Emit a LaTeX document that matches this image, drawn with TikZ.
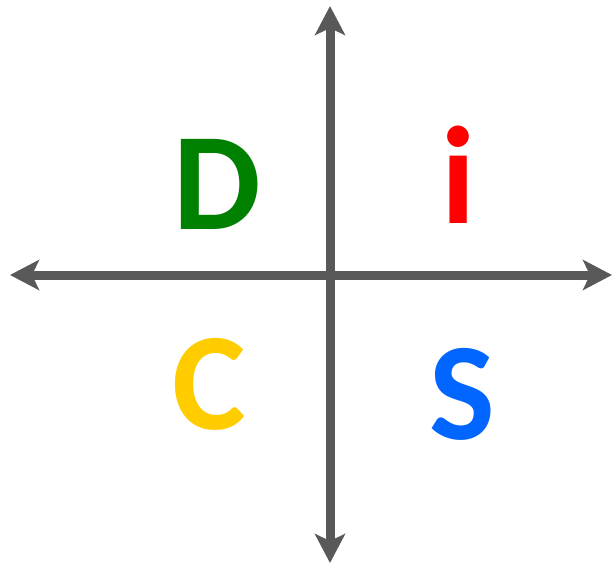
\documentclass[tikz,border=0pt]{standalone}
\usepackage{fontspec}
\setmainfont{Carlito}
\usetikzlibrary{arrows.meta}
\definecolor{axisgray}{HTML}{595959}
\definecolor{dgreen}{HTML}{008000}
\definecolor{ired}{HTML}{FF0000}
\definecolor{cyellow}{HTML}{FFCC00}
\definecolor{sblue}{HTML}{0066FF}
\tikzset{
  axis/.style={draw=axisgray, line width=9pt,
    arrows={Stealth[length=29pt,width=30pt,inset=7pt]-Stealth[length=29pt,width=30pt,inset=7pt]}},
  letter/.style={inner sep=0pt, anchor=base, font=\fontsize{139}{139}\selectfont\bfseries}
}
\begin{document}
\begin{tikzpicture}[x=1pt,y=-1pt]
\useasboundingbox (0,0) rectangle (612,563);
\coordinate (top) at (330,6);
\coordinate (bottom) at (330,563);
\coordinate (left) at (10,275);
\coordinate (right) at (612,275);
\draw[axis] (left) -- (right);
\draw[axis] (bottom) -- (top);
\node[letter, text=dgreen] (D) at (217,229) {D};
\node[letter, text=ired] (I) at (459,223) {i};
\node[letter, text=cyellow] (C) at (209,429) {C};
\node[letter, text=sblue] (S) at (462,439) {S};
\end{tikzpicture}
\end{document}
